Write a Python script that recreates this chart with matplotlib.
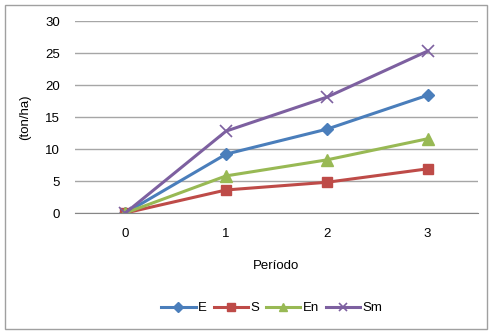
import matplotlib.pyplot as plt
import matplotlib as mpl
from matplotlib.patches import Rectangle

mpl.rcParams['font.family'] = ['Liberation Sans', 'DejaVu Sans']

# datos
periodos = [0, 1, 2, 3]
E = [0, 9.2, 13.1, 18.4]
S = [0, 3.6, 4.8, 6.9]
En = [0, 5.8, 8.3, 11.6]
Sm = [0, 12.8, 18.1, 25.3]

W, H = 491, 331
fig = plt.figure(figsize=(W / 100, H / 100), dpi=100)
ax = fig.add_axes([75 / W, (H - 213) / H, 403 / W, 192 / H])

# borde del grafico
fig.patches.append(Rectangle((5 / W, 2 / H), 482 / W, 324 / H, transform=fig.transFigure,
                             fill=False, edgecolor='#a0a0a0', linewidth=1))

x = list(range(len(periodos)))
ax.plot(x, E, color='#4a7ebb', lw=2.2, marker='D', ms=6, label='E')
ax.plot(x, S, color='#be4b48', lw=2.2, marker='s', ms=7, label='S')
ax.plot(x, En, color='#98b954', lw=2.2, marker='^', ms=8, label='En')
ax.plot(x, Sm, color='#7d60a0', lw=2.2, marker='x', ms=8, mew=1.2, label='Sm')

ax.set_xlim(-0.5, 3.5)
ax.set_ylim(0, 30)
ax.set_xticks(x)
ax.set_xticklabels([str(p) for p in periodos])
ax.set_yticks([0, 5, 10, 15, 20, 25, 30])
ax.yaxis.grid(True, color='#a6a6a6', lw=1)
ax.set_axisbelow(True)
for s in ['top', 'right', 'left']:
    ax.spines[s].set_visible(False)
ax.spines['bottom'].set_color('#868686')
ax.tick_params(axis='both', length=0, labelsize=9.5)
ax.tick_params(axis='y', pad=11)
ax.tick_params(axis='x', pad=11)

ax.set_ylabel('(ton/ha)', fontsize=9.5, labelpad=10)
ax.set_xlabel('Período', fontsize=9.5, labelpad=14)

fig.legend(loc='center', bbox_to_anchor=(272 / W, 1 - 308 / H), ncol=4, frameon=False,
           fontsize=9.5, handlelength=2.6, columnspacing=0.5, handletextpad=0.2,
           markerscale=0.8)

plt.savefig('out.png', dpi=100)
